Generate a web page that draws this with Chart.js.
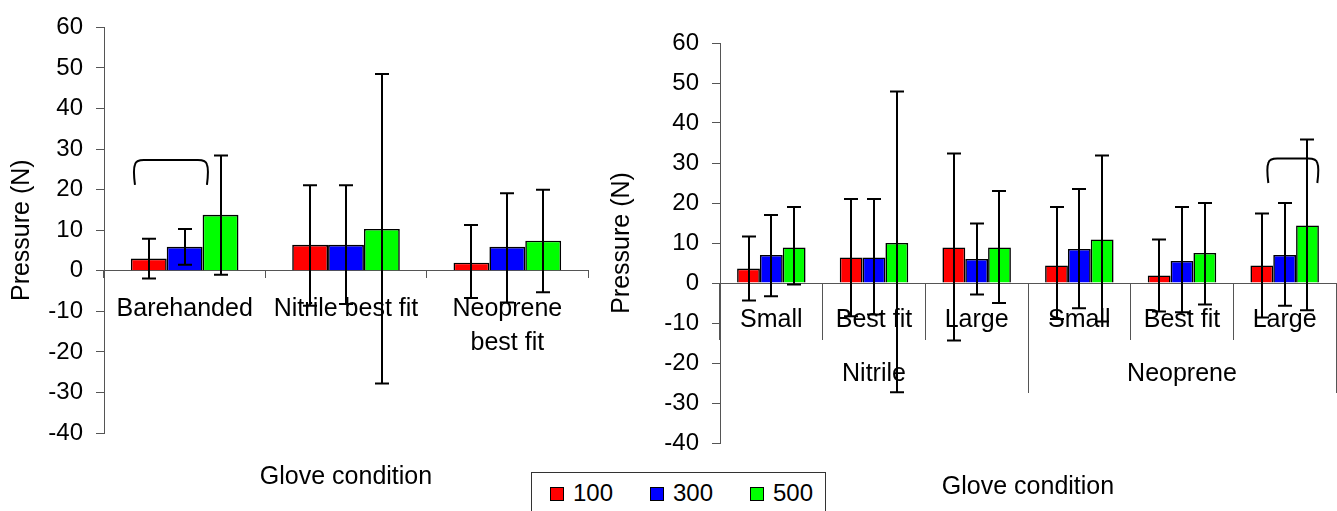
<!DOCTYPE html>
<html><head><meta charset="utf-8">
<script src="https://cdn.jsdelivr.net/npm/chart.js@4/dist/chart.umd.min.js"></script>
<style>
html,body{margin:0;padding:0;background:#fff;width:1337px;height:511px;overflow:hidden;font-family:"Liberation Sans",Arial,sans-serif;}
#c1{position:absolute;left:0;top:0;}
#c2{position:absolute;left:600px;top:0;}
#legend{position:absolute;left:531px;top:472px;width:295px;height:50px;border:1px solid #333;background:#fff;box-sizing:border-box;z-index:5;}
.sw{position:absolute;top:14px;width:12px;height:12px;border:1px solid #000;}
.lt{position:absolute;top:0;height:40px;line-height:40px;font-size:24px;color:#000;}
</style></head>
<body>
<canvas id="c1" width="600" height="511"></canvas>
<canvas id="c2" width="737" height="511"></canvas>
<div id="legend"></div>
<script>
// ---------- data ----------
const seriesNames = ['100', '300', '500'];
const seriesColors = ['#FF0000', '#0000FF', '#00FF00'];

const leftCategories = ['Barehanded', 'Nitrile best fit', ['Neoprene', 'best fit']];
const left100 = [3.0, 6.4, 2.0];
const left100Hi = [7.9, 21.1, 11.3];
const left100Lo = [-1.9, -8.6, -6.7];
const left300 = [5.9, 6.4, 5.9];
const left300Hi = [10.3, 21.1, 19.1];
const left300Lo = [1.5, -8.2, -7.8];
const left500 = [13.8, 10.3, 7.4];
const left500Hi = [28.4, 48.5, 20.0];
const left500Lo = [-1.0, -27.8, -5.3];

const rightCategories = ['Small', 'Best fit', 'Large', 'Small', 'Best fit', 'Large'];
const rightGroups = ['Nitrile', 'Neoprene'];
const right100 = [3.6, 6.4, 8.9, 4.4, 1.9, 4.4];
const right100Hi = [11.6, 21.0, 32.4, 19.0, 10.9, 17.4];
const right100Lo = [-4.4, -8.3, -14.4, -9.0, -7.1, -8.6];
const right300 = [7.0, 6.4, 6.0, 8.5, 5.5, 7.0];
const right300Hi = [17.0, 21.0, 14.9, 23.5, 19.0, 20.0];
const right300Lo = [-3.3, -7.9, -2.9, -6.3, -7.3, -5.7];
const right500 = [8.9, 10.0, 8.9, 10.9, 7.5, 14.4];
const right500Hi = [19.0, 47.9, 23.0, 31.9, 20.0, 35.9];
const right500Lo = [-0.4, -27.3, -5.0, -9.6, -5.4, -6.8];

const yMin = -40, yMax = 60, yStep = 10;
const yTitle = 'Pressure (N)';
const xTitle = 'Glove condition';

// ---------- helpers ----------
const FONT = '"Liberation Sans", Arial, sans-serif';
const AXIS_COLOR = '#555';

function makeDatasets(vals, his, los) {
  return vals.map((v, i) => ({
    label: seriesNames[i],
    data: v,
    errHi: his[i],
    errLo: los[i],
    xAxisID: 'x',
    yAxisID: 'y',
    backgroundColor: seriesColors[i],
    borderColor: '#000',
    borderWidth: 1.6,
    barPercentage: 1.0,
    categoryPercentage: 0.667
  }));
}

const annotatePlugin = {
  id: 'annotate',
  afterDatasetsDraw(chart, args, opts) {
    const ctx = chart.ctx;
    const ys = chart.scales.y, xs = chart.scales.x;
    ctx.save();
    // error bars
    ctx.strokeStyle = '#000';
    ctx.lineWidth = 2;
    chart.data.datasets.forEach((ds, di) => {
      const meta = chart.getDatasetMeta(di);
      meta.data.forEach((el, j) => {
        const x = Math.round(el.x);
        const yt = ys.getPixelForValue(ds.errHi[j]);
        const yb = ys.getPixelForValue(ds.errLo[j]);
        const c = opts.cap / 2;
        ctx.beginPath();
        ctx.moveTo(x, yt); ctx.lineTo(x, yb);
        ctx.moveTo(x - c, yt); ctx.lineTo(x + c, yt);
        ctx.moveTo(x - c, yb); ctx.lineTo(x + c, yb);
        ctx.stroke();
      });
    });
    // bracket
    const b = opts.bracket;
    if (b) {
      const cw = xs.width / xs.getLabels().length;
      const cx = xs.getPixelForValue(b.cat);
      const x1 = cx + b.from * cw, x2 = cx + b.to * cw;
      const yt = ys.getPixelForValue(b.top), ye = ys.getPixelForValue(b.end);
      const r = 9;
      ctx.beginPath();
      ctx.moveTo(x1, ye);
      ctx.quadraticCurveTo(x1 - 2, yt + r, x1, yt + r / 2);
      ctx.quadraticCurveTo(x1 + 1, yt, x1 + r, yt);
      ctx.lineTo(x2 - r, yt);
      ctx.quadraticCurveTo(x2 - 1, yt, x2, yt + r / 2);
      ctx.quadraticCurveTo(x2 + 2, yt + r, x2, ye);
      ctx.stroke();
    }
    // x title
    const ca = chart.chartArea;
    ctx.fillStyle = '#000';
    ctx.font = '25px ' + FONT;
    ctx.textAlign = 'center';
    ctx.textBaseline = 'middle';
    ctx.fillText(xTitle, (ca.left + ca.right) / 2, ca.bottom + opts.titleOffset);
    ctx.restore();
  }
};

function yScale(width) {
  return {
    min: yMin, max: yMax,
    afterFit(s) { s.width = width; },
    ticks: { stepSize: yStep, color: '#000', font: { size: 24, family: FONT }, padding: 13 },
    grid: { drawOnChartArea: false, drawTicks: true, tickLength: 8, color: AXIS_COLOR },
    border: { display: true, color: AXIS_COLOR, width: 1 },
    title: { display: true, text: yTitle, color: '#000', font: { size: 25, family: FONT }, padding: { top: 7, bottom: 0 } }
  };
}

// ---------- left chart ----------
new Chart(document.getElementById('c1'), {
  type: 'bar',
  data: {
    labels: leftCategories,
    datasets: makeDatasets([left100, left300, left500], [left100Hi, left300Hi, left500Hi], [left100Lo, left300Lo, left500Lo])
  },
  plugins: [annotatePlugin],
  options: {
    responsive: false,
    animation: false,
    layout: { padding: { left: 0, top: 25, right: 12, bottom: 78 } },
    plugins: {
      legend: { display: false },
      tooltip: { enabled: false },
      annotate: { cap: 14, titleOffset: 44, bracket: { cat: 0, from: -0.308, to: 0.138, top: 27.3, end: 21.2 } }
    },
    scales: {
      x: {
        position: { y: 0 },
        offset: true,
        grid: { offset: true, drawOnChartArea: false, drawTicks: true, tickLength: 7, color: AXIS_COLOR },
        border: { display: true, color: AXIS_COLOR, width: 1 },
        ticks: { autoSkip: false, maxRotation: 0, minRotation: 0, color: '#000', padding: 14,
                 font: { size: 25, family: FONT, lineHeight: 1.36 } }
      },
      y: yScale(104)
    }
  }
});

// ---------- right chart ----------
new Chart(document.getElementById('c2'), {
  type: 'bar',
  data: {
    labels: rightCategories,
    datasets: makeDatasets([right100, right300, right500], [right100Hi, right300Hi, right500Hi], [right100Lo, right300Lo, right500Lo])
  },
  plugins: [annotatePlugin],
  options: {
    responsive: false,
    animation: false,
    layout: { padding: { left: 0, top: 43, right: 1, bottom: 68 } },
    plugins: {
      legend: { display: false },
      tooltip: { enabled: false },
      annotate: { cap: 14, titleOffset: 44, bracket: { cat: 5, from: -0.159, to: 0.318, top: 31.1, end: 25.0 } }
    },
    scales: {
      x: {
        position: { y: 0 },
        offset: true,
        grid: { offset: true, drawOnChartArea: false, drawTicks: true, tickLength: 56, color: AXIS_COLOR },
        border: { display: true, color: AXIS_COLOR, width: 1 },
        ticks: { autoSkip: false, maxRotation: 0, minRotation: 0, color: '#000', padding: -34,
                 font: { size: 25, family: FONT, lineHeight: 1.2 } }
      },
      x2: {
        type: 'category',
        labels: rightGroups,
        position: { y: 0 },
        offset: true,
        grid: { offset: true, drawOnChartArea: false, drawTicks: true, tickLength: 110, color: AXIS_COLOR },
        border: { display: false },
        ticks: { autoSkip: false, maxRotation: 0, minRotation: 0, color: '#000', padding: -34,
                 font: { size: 25, family: FONT, lineHeight: 1.2 } }
      },
      y: yScale(120)
    }
  }
});

// ---------- legend (HTML) ----------
const legend = document.getElementById('legend');
const legendX = [18, 118, 218];
seriesNames.forEach((n, i) => {
  const sw = document.createElement('div');
  sw.className = 'sw';
  sw.style.left = legendX[i] + 'px';
  sw.style.background = seriesColors[i];
  legend.appendChild(sw);
  const t = document.createElement('div');
  t.className = 'lt';
  t.style.left = (legendX[i] + 23) + 'px';
  t.textContent = n;
  legend.appendChild(t);
});
</script>
</body></html>
